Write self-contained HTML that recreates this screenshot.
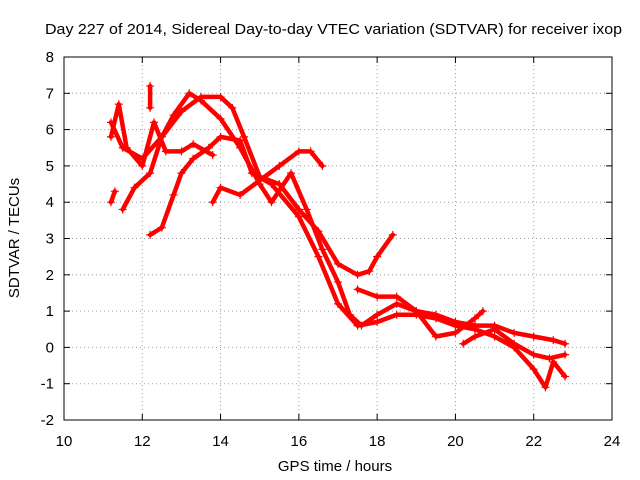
<!DOCTYPE html>
<html><head><meta charset="utf-8"><style>
body{margin:0;background:#fff;}
svg{display:block;font-family:"Liberation Sans",sans-serif;}
</style></head><body>
<svg id="c" width="640" height="480"></svg>
<script>
const xTicks=[10,12,14,16,18,20,22,24];
const yTicks=[-2,-1,0,1,2,3,4,5,6,7,8];
const trackA_x=[11.2,11.5,12,12.5,13,13.5,14,14.3,14.6,15,15.5,16,16.5,17,17.5,17.8,18,18.4];
const trackA_y=[6.2,5.5,5.2,5.8,6.5,6.9,6.9,6.6,5.8,4.7,4.5,3.8,3.2,2.3,2.0,2.1,2.5,3.1];
const trackB_x=[12.2,12.5,12.8,13,13.3,13.7,14,14.5,14.8,15.3,16,16.5,17,17.5,18,18.5,19,19.5,20,20.5,21,21.5,22,22.3,22.5,22.8];
const trackB_y=[3.1,3.3,4.2,4.8,5.2,5.5,5.8,5.7,4.8,4.5,3.6,2.5,1.2,0.6,0.7,0.9,0.9,0.8,0.6,0.5,0.3,0.0,-0.6,-1.1,-0.4,-0.8];
const trackC_x=[13.8,14,14.5,15,15.5,16,16.3,16.6];
const trackC_y=[4.0,4.4,4.2,4.6,5.0,5.4,5.4,5.0];
const trackD_x=[11.5,11.8,12.2,12.5,12.8,13.2,13.5,14,14.5,15,15.3,15.8,16.2,16.6,17,17.3,17.6,18,18.5,19,19.5,20,20.5,21,21.5,22,22.5,22.8];
const trackD_y=[3.8,4.4,4.8,5.8,6.4,7.0,6.8,6.3,5.5,4.5,4.0,4.8,3.8,2.7,1.8,0.9,0.6,0.9,1.2,1.0,0.9,0.7,0.6,0.6,0.4,0.3,0.2,0.1];
const trackE_x=[17.5,18,18.5,19,19.5,20,20.5,20.7];
const trackE_y=[1.6,1.4,1.4,1.0,0.3,0.4,0.8,1.0];
const trackF_x=[20.2,20.5,21,21.5,22,22.4,22.8];
const trackF_y=[0.1,0.3,0.5,0.1,-0.2,-0.3,-0.2];
const trackG_x=[11.2,11.4,11.6,12,12.3,12.6,13,13.3,13.8];
const trackG_y=[5.8,6.7,5.5,5.0,6.2,5.4,5.4,5.6,5.3];
const trackH_x=[11.2,11.3,12.2,12.2];
const trackH_y=[4.0,4.3,7.2,6.6];
const tracks=[[trackA_x,trackA_y],[trackB_x,trackB_y],[trackC_x,trackC_y],[trackD_x,trackD_y],[trackE_x,trackE_y],[trackF_x,trackF_y],[trackG_x,trackG_y]];

const L=64,R=612,T=57,B=420;
const FS=15;
const sx=v=>L+(v-10)/14*(R-L);
const sy=v=>B-(v+2)/10*(B-T);
const svg=document.getElementById('c');
const NS='http://www.w3.org/2000/svg';
function mk(t,a,p){const e=document.createElementNS(NS,t);for(const k in a)e.setAttribute(k,a[k]);(p||svg).appendChild(e);return e;}
const title=mk('text',{x:45,y:34,'font-size':FS,textLength:577,lengthAdjust:'spacingAndGlyphs'});
title.textContent='Day 227 of 2014, Sidereal Day-to-day VTEC variation (SDTVAR) for receiver ixop';


xTicks.forEach(v=>{
  const x=sx(v);
  if(v>10&&v<24){const g=mk('line',{x1:x,x2:x,y1:T,y2:B,stroke:'#a0a0a0','stroke-dasharray':'1,3'});
  
  }
  mk('line',{x1:x,x2:x,y1:B,y2:B-6,stroke:'#000'});mk('line',{x1:x,x2:x,y1:T,y2:T+6,stroke:'#000'});
  const t=mk('text',{x:x,y:B+26,'text-anchor':'middle','font-size':FS});t.textContent=v;
  
  
});
yTicks.forEach(v=>{
  const y=sy(v);
  if(v>-2&&v<8){const g=mk('line',{x1:L,x2:R,y1:y,y2:y,stroke:'#a0a0a0','stroke-dasharray':'1,3'});
  
  }
  mk('line',{x1:L,x2:L+6,y1:y,y2:y,stroke:'#000'});mk('line',{x1:R,x2:R-6,y1:y,y2:y,stroke:'#000'});
  const t=mk('text',{x:L-10,y:y+5,'text-anchor':'end','font-size':FS});t.textContent=v;
  
  
});
const frame=mk('rect',{x:L,y:T,width:R-L,height:B-T,fill:'none',stroke:'#000'});


const xl=mk('text',{x:335,y:471,'text-anchor':'middle','font-size':FS});xl.textContent='GPS time / hours';


const yl=mk('text',{x:19,y:238,'text-anchor':'middle','font-size':FS,transform:'rotate(-90 19 238)'});yl.textContent='SDTVAR / TECUs';


function drawTrack(xs,ys){
  const pts=xs.map((v,i)=>sx(v)+','+sy(ys[i])).join(' ');
  const pl=mk('polyline',{points:pts,fill:'none',stroke:'#ff0000','stroke-width':4.5,'stroke-linejoin':'round','stroke-linecap':'round'});
  
  
  xs.forEach((v,i)=>{const x=sx(v),y=sy(ys[i]);
    const m=mk('path',{d:`M${x-4},${y}h8M${x},${y-4}v8`,stroke:'#ff0000','stroke-width':1.2});
    
    });
}
tracks.forEach(t=>drawTrack(t[0],t[1]));
drawTrack(trackH_x.slice(0,2),trackH_y.slice(0,2));
drawTrack(trackH_x.slice(2),trackH_y.slice(2));
</script>
</body></html>
